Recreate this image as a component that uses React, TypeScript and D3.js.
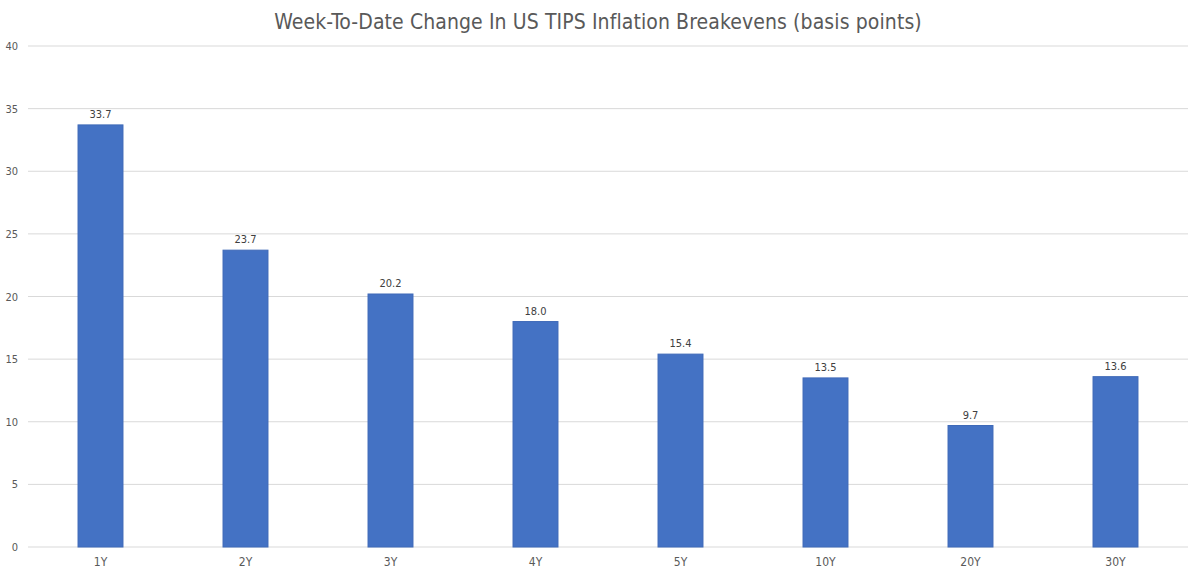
import React from "react";
import * as d3 from "d3";

const categories = ["1Y", "2Y", "3Y", "4Y", "5Y", "10Y", "20Y", "30Y"];
const values = [33.7, 23.7, 20.2, 18.0, 15.4, 13.5, 9.7, 13.6];
const yTicks = [0, 5, 10, 15, 20, 25, 30, 35, 40];
const title = "Week-To-Date Change In US TIPS Inflation Breakevens (basis points)";

const W = 1200;
const H = 577;
const left = 28;
const right = 1188;
const top = 46;
const bottom = 547;
const font = "'DejaVu Sans Condensed', 'Roboto', sans-serif";

export default function App() {
  const x = d3.scaleBand<string>().domain(categories).range([left, right]).paddingInner(0.69).paddingOuter(0.345);
  const y = d3.scaleLinear().domain([0, 40]).range([bottom, top]);
  return (
    <svg width={W} height={H} style={{ position: "absolute", left: 0, top: 0, background: "#fff" }}>
      <text x={598} y={29} textAnchor="middle" fontFamily={font} fontSize={21} letterSpacing={0.1} fill="#595959">{title}</text>
      {yTicks.map((t) => (
        <g key={t}>
          <line x1={left} x2={right} y1={y(t)} y2={y(t)} stroke="#d9d9d9" strokeWidth={1} />
          <text x={18} y={y(t) + 4} textAnchor="end" fontFamily={font} fontSize={11} fill="#595959">{t}</text>
        </g>
      ))}
      {categories.map((c, i) => (
        <g key={c}>
          <rect x={x(c)} y={y(values[i])} width={x.bandwidth()} height={y(0) - y(values[i])} fill="#4472C4" stroke="#3f6ab8" strokeWidth={1} />
          <text x={x(c)! + x.bandwidth() / 2} y={y(values[i]) - 7} textAnchor="middle" fontFamily={font} fontSize={11} fill="#404040">{values[i].toFixed(1)}</text>
          <text x={x(c)! + x.bandwidth() / 2} y={566} textAnchor="middle" fontFamily={font} fontSize={12} fill="#595959">{c}</text>
        </g>
      ))}
    </svg>
  );
}
